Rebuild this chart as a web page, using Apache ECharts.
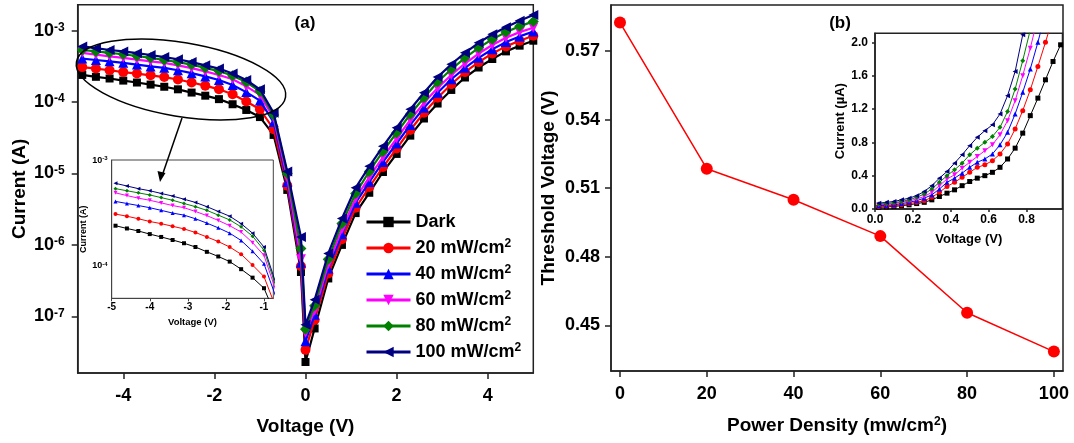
<!DOCTYPE html>
<html><head><meta charset="utf-8">
<script src="https://cdn.jsdelivr.net/npm/echarts@6/dist/echarts.min.js"></script>
<style>html,body{margin:0;padding:0;background:#fff}#c{width:1074px;height:443px}</style>
</head><body><div id="c"></div><script>
// ---------- Panel (a): I-V curves (V, A) ----------
const voltage = [-4.9,-4.6,-4.3,-4.0,-3.7,-3.4,-3.1,-2.8,-2.5,-2.2,-1.9,-1.6,-1.3,-1.0,-0.7,-0.4,-0.1,0,0.2,0.5,0.8,1.1,1.4,1.7,2.0,2.3,2.6,2.9,3.2,3.5,3.8,4.1,4.4,4.7,5.0];
const curDark = [2.40e-4,2.26e-4,2.14e-4,2.00e-4,1.88e-4,1.76e-4,1.64e-4,1.51e-4,1.36e-4,1.23e-4,1.10e-4,9.33e-5,7.76e-5,6.17e-5,3.47e-5,5.89e-6,4.17e-7,2.29e-8,6.76e-8,3.39e-7,1.00e-6,2.79e-6,5.37e-6,1.05e-5,1.88e-5,3.39e-5,5.89e-5,9.55e-5,1.48e-4,2.21e-4,3.05e-4,4.01e-4,5.13e-4,6.17e-4,7.24e-4];
const cur20 = [3.09e-4,2.95e-4,2.79e-4,2.63e-4,2.51e-4,2.37e-4,2.24e-4,2.07e-4,1.88e-4,1.70e-4,1.51e-4,1.29e-4,1.02e-4,7.94e-5,4.17e-5,6.76e-6,5.01e-7,3.39e-8,8.91e-8,3.98e-7,1.20e-6,3.31e-6,6.46e-6,1.23e-5,2.24e-5,4.07e-5,7.08e-5,1.15e-4,1.78e-4,2.63e-4,3.63e-4,4.79e-4,6.03e-4,7.24e-4,8.51e-4];
const cur40 = [4.07e-4,3.89e-4,3.72e-4,3.55e-4,3.35e-4,3.16e-4,3.02e-4,2.79e-4,2.54e-4,2.29e-4,2.04e-4,1.74e-4,1.38e-4,1.05e-4,5.25e-5,7.59e-6,5.62e-7,4.47e-8,1.05e-7,4.68e-7,1.41e-6,3.89e-6,7.59e-6,1.45e-5,2.63e-5,4.79e-5,8.32e-5,1.35e-4,2.09e-4,3.02e-4,4.17e-4,5.50e-4,6.92e-4,8.32e-4,9.77e-4];
const cur60 = [4.90e-4,4.62e-4,4.37e-4,4.17e-4,3.94e-4,3.72e-4,3.55e-4,3.27e-4,2.99e-4,2.69e-4,2.40e-4,2.09e-4,1.66e-4,1.26e-4,6.03e-5,8.71e-6,6.31e-7,5.89e-8,1.20e-7,5.37e-7,1.66e-6,4.47e-6,8.91e-6,1.70e-5,3.09e-5,5.62e-5,9.77e-5,1.58e-4,2.40e-4,3.47e-4,4.79e-4,6.31e-4,7.94e-4,9.55e-4,1.10e-3];
const cur80 = [5.37e-4,5.13e-4,4.90e-4,4.68e-4,4.42e-4,4.17e-4,3.89e-4,3.63e-4,3.35e-4,3.02e-4,2.72e-4,2.34e-4,1.91e-4,1.41e-4,6.61e-5,1.00e-5,8.91e-7,6.61e-8,1.41e-7,6.31e-7,2.00e-6,5.25e-6,1.07e-5,2.04e-5,3.72e-5,6.76e-5,1.15e-4,1.91e-4,2.88e-4,4.17e-4,5.75e-4,7.59e-4,9.55e-4,1.15e-3,1.35e-3];
const cur100 = [6.03e-4,5.69e-4,5.37e-4,5.13e-4,4.84e-4,4.57e-4,4.27e-4,3.98e-4,3.63e-4,3.27e-4,2.95e-4,2.51e-4,2.04e-4,1.51e-4,7.08e-5,1.07e-5,1.29e-6,7.59e-8,1.70e-7,7.59e-7,2.34e-6,6.31e-6,1.26e-5,2.40e-5,4.37e-5,7.94e-5,1.35e-4,2.24e-4,3.39e-4,4.90e-4,6.76e-4,8.91e-4,1.12e-3,1.38e-3,1.66e-3];

// ---------- Panel (b) inset: low-voltage I-V (V, µA) ----------
const voltageLow = [0.02,0.06,0.10,0.14,0.18,0.22,0.26,0.30,0.34,0.38,0.42,0.46,0.50,0.54,0.58,0.62,0.66,0.70,0.74,0.78,0.82,0.86,0.90,0.94,0.98];
const lowDark = [0.02,0.025,0.03,0.04,0.05,0.065,0.08,0.11,0.15,0.19,0.23,0.28,0.33,0.37,0.40,0.44,0.50,0.60,0.73,0.91,1.12,1.33,1.55,1.77,1.97];
const low20 = [0.03,0.035,0.04,0.05,0.065,0.08,0.10,0.14,0.20,0.27,0.32,0.38,0.44,0.50,0.53,0.58,0.66,0.78,0.96,1.18,1.43,1.71,2.0,2.3];
const low40 = [0.04,0.045,0.05,0.065,0.08,0.10,0.13,0.17,0.24,0.32,0.37,0.43,0.50,0.56,0.60,0.66,0.77,0.92,1.14,1.40,1.68,2.0,2.35];
const low60 = [0.05,0.055,0.065,0.08,0.095,0.12,0.15,0.20,0.28,0.36,0.41,0.49,0.56,0.63,0.70,0.77,0.89,1.06,1.30,1.60,1.93,2.3];
const low80 = [0.06,0.065,0.075,0.09,0.11,0.14,0.18,0.24,0.32,0.40,0.47,0.55,0.65,0.73,0.80,0.87,0.98,1.17,1.44,1.78,2.15];
const low100 = [0.07,0.08,0.09,0.11,0.13,0.16,0.21,0.28,0.37,0.45,0.55,0.65,0.76,0.86,0.94,1.01,1.14,1.36,1.65,2.09,2.6];

// ---------- Panel (b): threshold voltage ----------
const powerDensity = [0,20,40,60,80,100];
const thresholdV = [0.5824,0.5185,0.5049,0.4890,0.4555,0.4385];

// ---------- labels / ticks ----------
const seriesNames = ['Dark','20 mW/cm2','40 mW/cm2','60 mW/cm2','80 mW/cm2','100 mW/cm2'];
const ticksA_x = [-4,-2,0,2,4];
const ticksA_y = [1e-7,1e-6,1e-5,1e-4,1e-3];
const ticksAin_x = [-5,-4,-3,-2,-1];
const ticksAin_y = [1e-4,1e-3];
const ticksB_x = [0,20,40,60,80,100];
const ticksB_y = [0.45,0.48,0.51,0.54,0.57];
const ticksBin_x = [0,0.2,0.4,0.6,0.8];
const ticksBin_y = [0,0.4,0.8,1.2,1.6,2.0];

// ---------- styles ----------
const colors = ['#000000','#ff0000','#0000ff','#ff00ff','#008000','#000080'];
const symbols = ['rect','circle','triangle','triangle','diamond','triangle'];
const symRot = [0,0,0,180,0,90];
const symSize = [8,10,10,10,11,10];
const FONT = 'Liberation Sans, Arial, sans-serif';
const AX = '#222';

const mainCur = [curDark,cur20,cur40,cur60,cur80,cur100];
const lowCur = [lowDark,low20,low40,low60,low80,low100];
const pair = (xs, ys) => ys.map((y,i)=>[xs[i], y]);
const supRich = (size) => ({ s: { fontSize: size, fontWeight: 'bold', fontFamily: FONT, color: '#000', verticalAlign: 'top', lineHeight: size } });
const logFmt = v => '10{s|' + Math.round(Math.log10(v)) + '}';

function axisCommon(o){
  return Object.assign({
    axisLine:{show:true,onZero:false,lineStyle:{color:AX,width:1.5}},
    splitLine:{show:false},
    axisTick:{show:true,inside:false,length:6,lineStyle:{color:AX,width:1.5}},
  }, o);
}

const series = [];
mainCur.forEach((d,i)=>{
  series.push({
    name: seriesNames[i], type:'line', xAxisIndex:0, yAxisIndex:0,
    data: pair(voltage,d), symbol: symbols[i], symbolRotate: symRot[i], symbolSize: symSize[i],
    lineStyle:{color:colors[i],width:2.2}, itemStyle:{color:colors[i]}, z: 2+i*0.01
  });
});
mainCur.forEach((d,i)=>{
  series.push({
    name: seriesNames[i], type:'line', xAxisIndex:1, yAxisIndex:1,
    data: pair(voltage,d), symbol: symbols[i], symbolRotate: symRot[i], symbolSize: 4,
    lineStyle:{color:colors[i],width:1}, itemStyle:{color:colors[i]}, z: 5
  });
});
series.push({
  name:'Vth', type:'line', xAxisIndex:2, yAxisIndex:2,
  data: pair(powerDensity, thresholdV), symbol:'circle', symbolSize:12,
  lineStyle:{color:'#ff0000',width:1.5}, itemStyle:{color:'#ff0000'}
});
lowCur.forEach((d,i)=>{
  series.push({
    name: seriesNames[i], type:'line', xAxisIndex:3, yAxisIndex:3,
    data: pair(voltageLow,d), symbol: symbols[i], symbolRotate: symRot[i], symbolSize: 5,
    lineStyle:{color:colors[i],width:1}, itemStyle:{color:colors[i]}, z: 5
  });
});

const bold = (size)=>({color:'#000',fontWeight:'bold',fontFamily:FONT,fontSize:size});

const option = {
  animation:false,
  backgroundColor:'#fff',
  grid:[
    {left:77.7, top:4.7, width:455.6, height:368.3, show:true, borderColor:AX, borderWidth:1.5, backgroundColor:'transparent'},
    {left:111.7, top:160, width:161.6, height:138.3, show:true, borderColor:'#444', borderWidth:1, backgroundColor:'#fff', z:3},
    {left:611, top:5, width:452, height:366, show:true, borderColor:AX, borderWidth:1.5, backgroundColor:'transparent'},
    {left:875, top:33.3, width:187.5, height:175.7, show:true, borderColor:AX, borderWidth:1.5, backgroundColor:'#fff', z:3}
  ],
  xAxis:[
    axisCommon({gridIndex:0, type:'value', min:-5, max:5,
      name:'Voltage (V)', nameLocation:'middle', nameGap:44, nameTextStyle:bold(19),
      axisTick:{show:true,length:6,lineStyle:{color:AX,width:1.5},customValues:ticksA_x},
      axisLabel:Object.assign({margin:14, customValues:ticksA_x}, bold(18))}),
    axisCommon({gridIndex:1, type:'value', min:-5, max:-0.755, z:4,
      axisLine:{show:true,onZero:false,lineStyle:{color:'#444',width:1}},
      name:'Voltage (V)', nameLocation:'middle', nameGap:19, nameTextStyle:bold(9.5),
      axisTick:{show:true,length:3,lineStyle:{color:'#444',width:1},customValues:ticksAin_x},
      axisLabel:Object.assign({margin:4, customValues:ticksAin_x}, bold(10))}),
    axisCommon({gridIndex:2, type:'value', min:-2.07, max:102.1,
      name:'Power Density (mw/cm{s|2})', nameLocation:'middle', nameGap:45,
      nameTextStyle:Object.assign({rich:supRich(12)}, bold(19)),
      axisTick:{show:true,length:6,lineStyle:{color:AX,width:1.5},customValues:ticksB_x},
      axisLabel:Object.assign({margin:14, customValues:ticksB_x}, bold(18))}),
    axisCommon({gridIndex:3, type:'value', min:0, max:0.99, z:4,
      name:'Voltage (V)', nameLocation:'middle', nameGap:24, nameTextStyle:bold(13),
      axisTick:{show:true,length:3,lineStyle:{color:AX,width:1.5},customValues:ticksBin_x},
      axisLabel:Object.assign({margin:5, customValues:ticksBin_x, formatter:v=>v.toFixed(1)}, bold(12))})
  ],
  yAxis:[
    axisCommon({gridIndex:0, type:'log', logBase:10, min:Math.pow(10,-7.794), max:Math.pow(10,-2.636),
      name:'Current (A)', nameLocation:'middle', nameGap:48, nameTextStyle:bold(19),
      axisTick:{show:true,length:6,lineStyle:{color:AX,width:1.5},customValues:ticksA_y},
      minorTick:{show:false},
      axisLabel:Object.assign({margin:13, customValues:ticksA_y, formatter:logFmt, rich:supRich(12)}, bold(18))}),
    axisCommon({gridIndex:1, type:'log', logBase:10, min:Math.pow(10,-4.305), max:1.001e-3, z:4,
      axisLine:{show:true,onZero:false,lineStyle:{color:'#444',width:1}},
      name:'Current (A)', nameLocation:'middle', nameGap:21, nameTextStyle:bold(9),
      axisTick:{show:false,customValues:ticksAin_y},
      axisLabel:Object.assign({margin:4, customValues:ticksAin_y, formatter:logFmt, rich:supRich(6)}, bold(9))}),
    axisCommon({gridIndex:2, type:'value', min:0.43, max:0.5901,
      name:'Threshold Voltage (V)', nameLocation:'middle', nameGap:53, nameTextStyle:bold(19),
      axisTick:{show:true,length:6,lineStyle:{color:AX,width:1.5},customValues:ticksB_y},
      axisLabel:Object.assign({margin:11, customValues:ticksB_y, formatter:v=>v.toFixed(2)}, bold(18))}),
    axisCommon({gridIndex:3, type:'value', min:0, max:2.108, z:4,
      name:'Current (\u00b5A)', nameLocation:'middle', nameGap:22, nameTextStyle:bold(13),
      axisTick:{show:true,length:3,lineStyle:{color:AX,width:1.5},customValues:ticksBin_y},
      axisLabel:Object.assign({margin:7, customValues:ticksBin_y, formatter:v=>v.toFixed(1)}, bold(12))})
  ],
  legend:{
    data: seriesNames, orient:'vertical', left:365, top:212, padding:0, itemWidth:44, itemHeight:13, itemGap:6,
    formatter: n => n.replace(/cm2$/, 'cm{s|2}'),
    lineStyle:{width:3},
    textStyle:Object.assign({lineHeight:20, padding:[0,0,0,0], rich:supRich(12)}, bold(18))
  },
  graphic:[
    {type:'ellipse', position:[181,79.5], rotation:-0.166, shape:{cx:0,cy:0,rx:106,ry:37},
      style:{fill:'none', stroke:'#000', lineWidth:1.5}, z:20},
    {type:'line', shape:{x1:182,y1:118,x2:162,y2:176}, style:{stroke:'#000',lineWidth:1.5}, z:20},
    {type:'polygon', shape:{points:[[160,182],[165.5,173],[157.5,171]]}, style:{fill:'#000'}, z:20},
    {type:'text', x:305, y:23, style:{text:'(a)', fill:'#000', font:'bold 17px '+FONT, textAlign:'center', textVerticalAlign:'middle'}, z:20},
    {type:'text', x:840, y:23, style:{text:'(b)', fill:'#000', font:'bold 17px '+FONT, textAlign:'center', textVerticalAlign:'middle'}, z:20}
  ],
  series
};
const chart = echarts.init(document.getElementById('c'), null, {renderer:'canvas'});
chart.setOption(option);
</script></body></html>
